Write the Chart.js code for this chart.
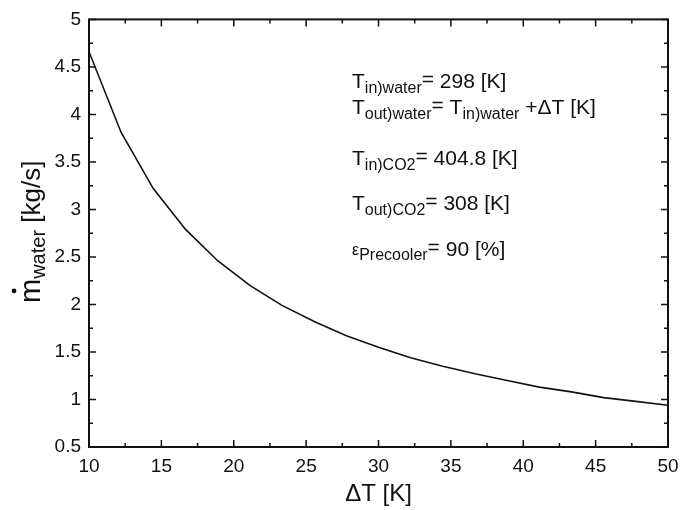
<!DOCTYPE html>
<html>
<head>
<meta charset="utf-8">
<script src="https://cdn.jsdelivr.net/npm/chart.js@4/dist/chart.umd.min.js"></script>
<style>
  html, body { margin: 0; padding: 0; background: white; }
  #wrap { width: 694px; height: 510px; }
</style>
</head>
<body>
<div id="wrap"><canvas id="flow"></canvas></div>
<script>
        // values
        var deltaT = [10, 12.22, 14.44, 16.67, 18.89, 21.11, 23.33, 25.56, 27.78, 30,
                      32.22, 34.44, 36.67, 38.89, 41.11, 43.33, 45.56, 47.78, 50];
        var mWater = [4.66, 3.81, 3.22, 2.79, 2.46, 2.20, 1.99, 1.82, 1.67, 1.55,
                      1.44, 1.35, 1.27, 1.20, 1.13, 1.08, 1.02, 0.98, 0.94];
        var xTicks = [10, 15, 20, 25, 30, 35, 40, 45, 50];
        var yTicks = [0.5, 1, 1.5, 2, 2.5, 3, 3.5, 4, 4.5, 5];

        var FONT = '"Liberation Sans", Arial, sans-serif';

        var pts = deltaT.map(function (x, i) { return {x: x, y: mWater[i]}; });

        // write text with sub/normal pieces: [text, size, dy]
        function pieces(ctx, x, y, parts) {
            parts.forEach(function (p) {
                ctx.font = p[1] + 'px ' + FONT;
                ctx.fillText(p[0], x, y + p[2]);
                x += ctx.measureText(p[0]).width;
            });
            return x;
        }

        var frame = {
            id: 'frame',
            afterDraw: function (chart) {
                var ctx = chart.ctx;
                var a = chart.chartArea;
                var xs = chart.scales.x, ys = chart.scales.y;
                ctx.save();
                ctx.strokeStyle = '#111';
                ctx.lineWidth = 2;
                ctx.strokeRect(a.left, a.top, a.right - a.left, a.bottom - a.top);

                ctx.lineWidth = 1.5;
                ctx.beginPath();
                for (var i = 0; i < xTicks.length; i++) {
                    var px = xs.getPixelForValue(xTicks[i]);
                    ctx.moveTo(px, a.bottom); ctx.lineTo(px, a.bottom - 7);
                    ctx.moveTo(px, a.top); ctx.lineTo(px, a.top + 7);
                    if (i < xTicks.length - 1) {
                        var mx = xs.getPixelForValue((xTicks[i] + xTicks[i + 1]) / 2);
                        ctx.moveTo(mx, a.bottom); ctx.lineTo(mx, a.bottom - 4);
                        ctx.moveTo(mx, a.top); ctx.lineTo(mx, a.top + 4);
                    }
                }
                for (var j = 0; j < yTicks.length; j++) {
                    var py = ys.getPixelForValue(yTicks[j]);
                    ctx.moveTo(a.left, py); ctx.lineTo(a.left + 7, py);
                    ctx.moveTo(a.right, py); ctx.lineTo(a.right - 7, py);
                    if (j < yTicks.length - 1) {
                        var my = ys.getPixelForValue((yTicks[j] + yTicks[j + 1]) / 2);
                        ctx.moveTo(a.left, my); ctx.lineTo(a.left + 4, my);
                        ctx.moveTo(a.right, my); ctx.lineTo(a.right - 4, my);
                    }
                }
                ctx.stroke();

                // axis titles
                ctx.fillStyle = '#111';
                ctx.textBaseline = 'alphabetic';
                ctx.font = '24px ' + FONT;
                ctx.textAlign = 'center';
                ctx.fillText('\u0394T [K]', (a.left + a.right) / 2, 501);

                ctx.textAlign = 'left';
                ctx.save();
                ctx.translate(40, 0);
                ctx.rotate(-Math.PI / 2);
                // rotated: x goes up the page, y goes right
                var startX = -303;
                ctx.font = '29px ' + FONT;
                var mW = ctx.measureText('m').width;
                ctx.fillText('m', startX, 0);
                ctx.beginPath();
                ctx.arc(startX + mW / 2, -26, 2.4, 0, Math.PI * 2);
                ctx.fill();
                pieces(ctx, startX + mW, 0, [['water', 20, 5], [' [kg/s]', 26, 0]]);
                ctx.restore();

                // parameter notes
                var L = 352;
                pieces(ctx, L, 88, [['T', 21, 0], ['in', 16, 5], [')water', 16, 5], ['=', 21, -2], [' 298 [K]', 21, 0]]);
                pieces(ctx, L, 114, [['T', 21, 0], ['out', 16, 5], [')water', 16, 5], ['=', 21, -2], [' T', 21, 0],
                                      ['in', 16, 5], [')water', 16, 5], [' +\u0394T [K]', 21, 0]]);
                pieces(ctx, L, 165, [['T', 21, 0], ['in', 16, 5], [')CO2', 16, 5], ['=', 21, -2], [' 404.8 [K]', 21, 0]]);
                pieces(ctx, L, 210, [['T', 21, 0], ['out', 16, 5], [')CO2', 16, 5], ['=', 21, -2], [' 308 [K]', 21, 0]]);
                pieces(ctx, L, 256, [['\u03b5', 16, -1], ['Precooler', 16, 4], ['=', 21, -2], [' 90 [%]', 21, 0]]);
                ctx.restore();
            }
        };

        new Chart(document.getElementById('flow'), {
            type: 'scatter',
            data: {
                datasets: [{
                    label: 'm water',
                    data: pts,
                    showLine: true,
                    borderColor: '#111',
                    borderWidth: 1.6,
                    pointRadius: 0,
                    tension: 0
                }]
            },
            options: {
                responsive: true,
                maintainAspectRatio: false,
                animation: false,
                layout: {
                    padding: {left: 0, right: 26, top: 16, bottom: 0}
                },
                plugins: {
                    legend: {display: false},
                    tooltip: {enabled: false}
                },
                scales: {
                    x: {
                        type: 'linear',
                        min: 10,
                        max: 50,
                        afterFit: function (s) { s.height = 63; },
                        grid: {display: false, drawTicks: false},
                        border: {display: false},
                        ticks: {
                            stepSize: 5,
                            padding: 8,
                            color: '#111',
                            font: {family: FONT, size: 19}
                        }
                    },
                    y: {
                        type: 'linear',
                        min: 0.5,
                        max: 5,
                        afterFit: function (s) { s.width = 89; },
                        grid: {display: false, drawTicks: false},
                        border: {display: false},
                        ticks: {
                            stepSize: 0.5,
                            padding: 8,
                            color: '#111',
                            font: {family: FONT, size: 19},
                            callback: function (v) { return String(Math.round(v * 10) / 10); }
                        }
                    }
                }
            },
            plugins: [frame]
        });
</script>
</body>
</html>
